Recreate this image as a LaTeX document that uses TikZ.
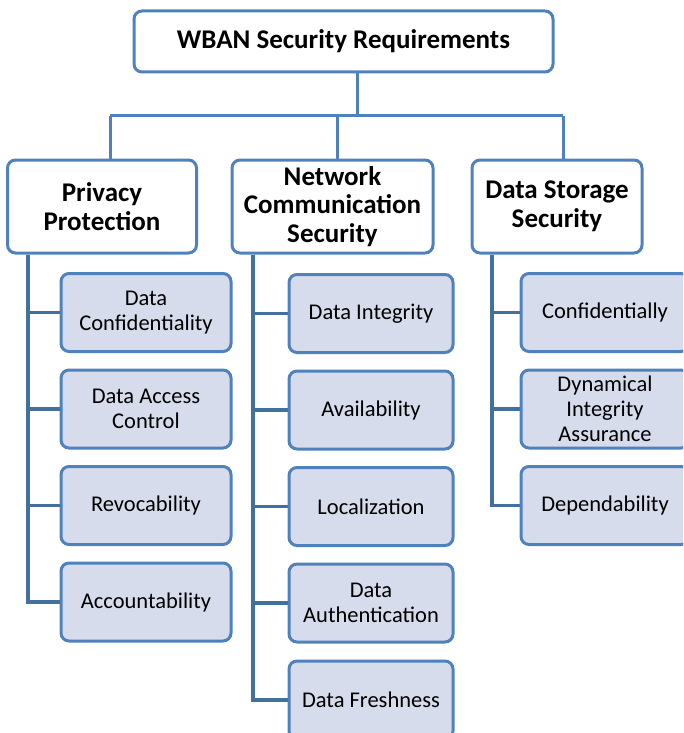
\documentclass[tikz,border=0pt]{standalone}
\usepackage{fontspec}
\setmainfont{Carlito}
\definecolor{bord}{HTML}{4F81BD}
\definecolor{trunkc}{HTML}{41719C}
\definecolor{leaff}{HTML}{D6DCEB}
\tikzset{
  headbox/.style={draw=bord, line width=3pt, rounded corners=8pt, fill=white,
    font=\fontsize{27}{28.5}\selectfont\bfseries, align=center, inner sep=0pt},
  leafbox/.style={draw=bord, line width=3pt, rounded corners=8pt, fill=leaff,
    font=\fontsize{22.5}{25}\selectfont, align=center, inner sep=0pt, minimum height=78pt},
  conn/.style={draw=bord, line width=3pt},
  trk/.style={draw=trunkc, line width=3.5pt}
}
\begin{document}
\begin{tikzpicture}[x=1pt,y=-1pt]
\useasboundingbox (0,0) rectangle (683,733);
\clip (0,0) rectangle (683,733);
% root
\node[headbox, minimum width=419pt, minimum height=61pt] (root) at (343.5,41.5) {WBAN Security Requirements};
% level 1
\node[headbox, minimum width=189pt, minimum height=93pt] (priv) at (102,206.5) {Privacy\\Protection};
\node[headbox, minimum width=201pt, minimum height=93pt] (net) at (332.5,206.5) {Network\\Communication\\Security};
\node[headbox, minimum width=170pt, minimum height=93pt] (stor) at (557,206.5) {Data Storage\\Security};
% privacy leaves
\node[leafbox, minimum width=170pt] (p1) at (146,312.5) {Data\\Confidentiality};
\node[leafbox, minimum width=170pt] (p2) at (146,409) {Data Access\\Control};
\node[leafbox, minimum width=170pt] (p3) at (146,505.5) {Revocability};
\node[leafbox, minimum width=170pt] (p4) at (146,602) {Accountability};
% network leaves
\node[leafbox, minimum width=164pt] (n1) at (371,313.5) {Data Integrity};
\node[leafbox, minimum width=164pt] (n2) at (371,410) {Availability};
\node[leafbox, minimum width=164pt] (n3) at (371,506.5) {Localization};
\node[leafbox, minimum width=164pt] (n4) at (371,603) {Data\\Authentication};
\node[leafbox, minimum width=164pt] (n5) at (371,700) {Data Freshness};
% storage leaves
\node[leafbox, minimum width=168pt] (s1) at (605,312.5) {Confidentially};
\node[leafbox, minimum width=168pt] (s2) at (605,409) {Dynamical\\Integrity\\Assurance};
\node[leafbox, minimum width=168pt] (s3) at (605,505.5) {Dependability};
% bus
\coordinate (busL) at (110,116);
\coordinate (busM) at (337,116);
\coordinate (busR) at (563,116);
\draw[conn] ([xshift=13.5pt]root.south) -- ([xshift=13.5pt]root.south |- busL);
\draw[conn] (busL) -- (busR);
\draw[conn] (busL) -- (busL |- priv.north);
\draw[conn] (busM) -- (busM |- net.north);
\draw[conn] (busR) -- (busR |- stor.north);
% trunks
\coordinate (pt) at (28,0);
\coordinate (nt) at (253,0);
\coordinate (st) at (492,0);
\draw[trk] (pt |- priv.south) |- (p4.west);
\draw[trk] (pt |- p1.west) -- (p1.west);
\draw[trk] (pt |- p2.west) -- (p2.west);
\draw[trk] (pt |- p3.west) -- (p3.west);
\draw[trk] (nt |- net.south) |- (n5.west);
\draw[trk] (nt |- n1.west) -- (n1.west);
\draw[trk] (nt |- n2.west) -- (n2.west);
\draw[trk] (nt |- n3.west) -- (n3.west);
\draw[trk] (nt |- n4.west) -- (n4.west);
\draw[trk] (st |- stor.south) |- (s3.west);
\draw[trk] (st |- s1.west) -- (s1.west);
\draw[trk] (st |- s2.west) -- (s2.west);
\end{tikzpicture}
\end{document}
